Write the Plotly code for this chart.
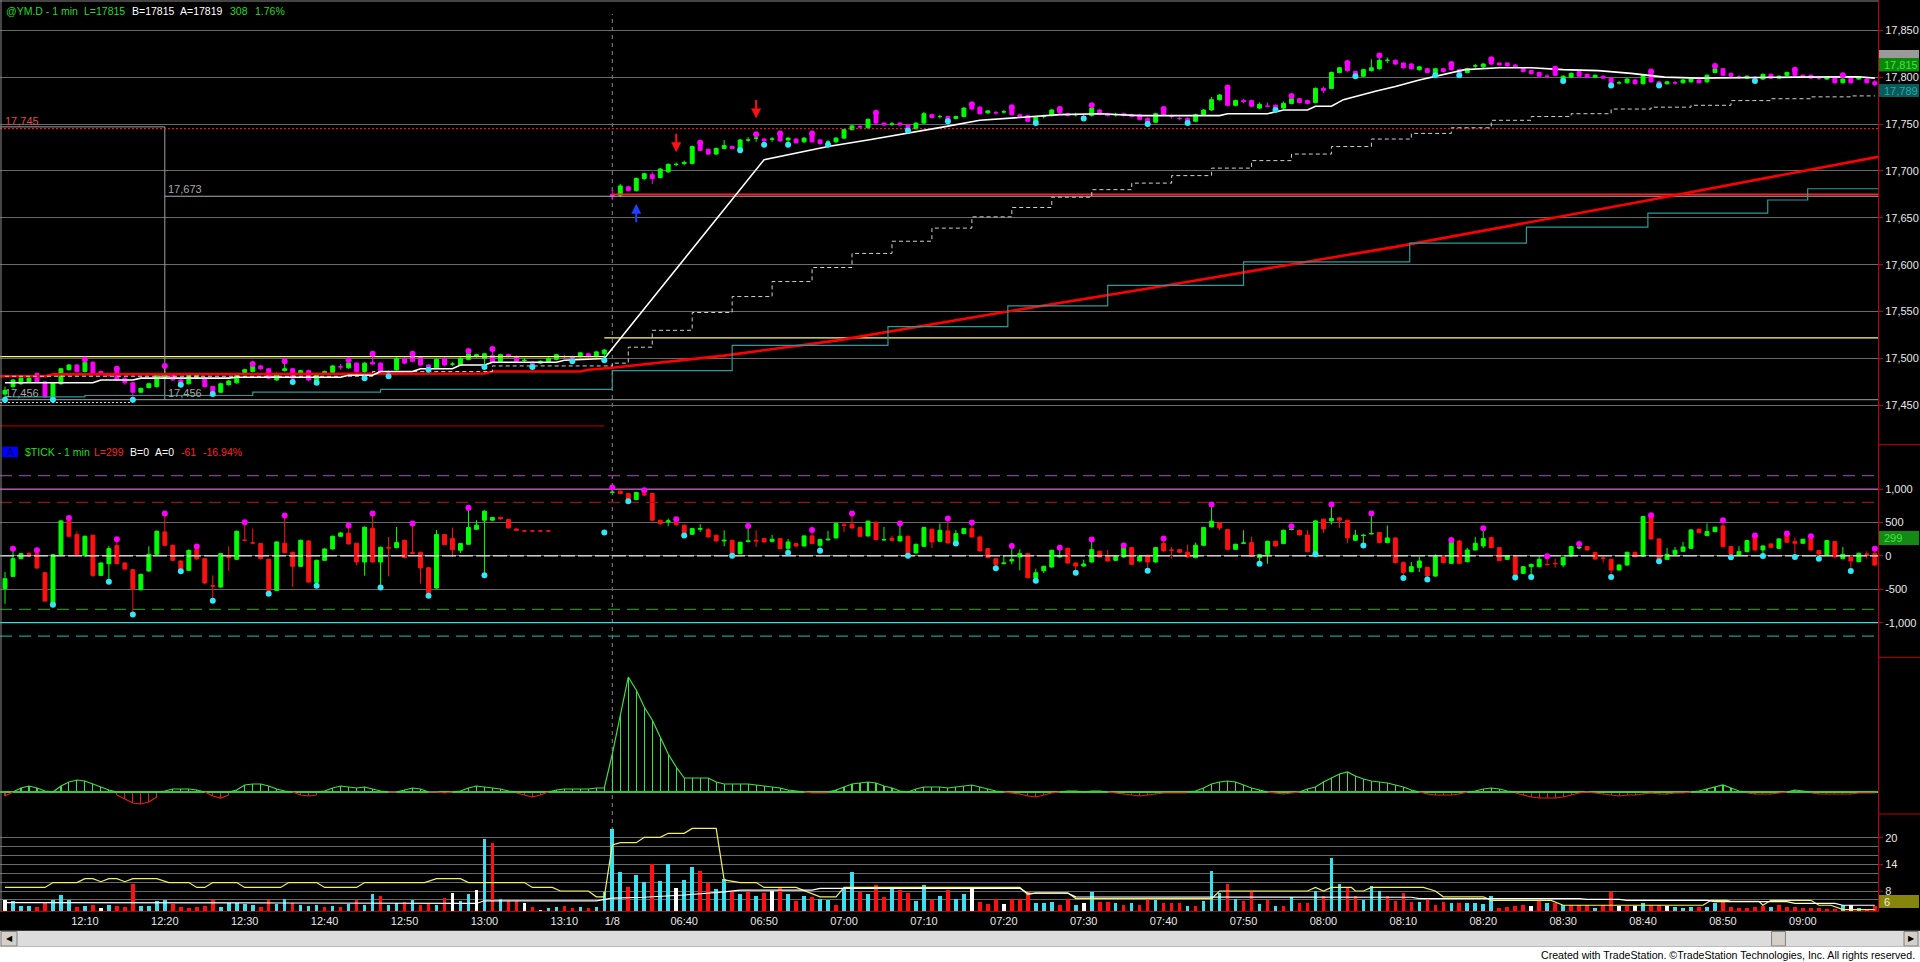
import plotly.graph_objects as go

W, H = 1920, 962

# ---------------- DATA ----------------
time_label_bars = [10, 20, 30, 40, 50, 60, 70, 76, 85, 95, 105, 115, 125, 135, 145, 155, 165, 175, 185, 195, 205, 215, 225]
time_labels = ["12:10", "12:20", "12:30", "12:40", "12:50", "13:00", "13:10", "1/8", "06:40", "06:50", "07:00",
               "07:10", "07:20", "07:30", "07:40", "07:50", "08:00", "08:10", "08:20", "08:30", "08:40", "08:50", "09:00"]

price_open = [
    17462, 17470, 17473, 17475, 17484, 17475, 17458, 17473, 17488, 17493,
    17486, 17496, 17486, 17482, 17487, 17479, 17474, 17464, 17469, 17470,
    17480, 17483, 17477, 17473, 17480, 17479, 17470, 17464, 17472, 17474,
    17485, 17486, 17492, 17489, 17477, 17487, 17489, 17483, 17487, 17474,
    17484, 17485, 17491, 17490, 17495, 17486, 17496, 17495, 17485, 17488,
    17500, 17502, 17501, 17493, 17490, 17500, 17494, 17493, 17499, 17502,
    17500, 17503, 17497, 17504, 17502, 17498, 17496, 17495, 17496, 17499,
    17502, 17502, 17502, 17505, 17502, 17505,
    17675, 17674, 17683, 17679, 17692, 17696, 17693, 17699, 17707, 17708,
    17708, 17728, 17723, 17718, 17724, 17726, 17723, 17733, 17735, 17734,
    17734, 17739, 17733, 17734, 17731, 17739, 17733, 17731, 17731, 17735,
    17744, 17747, 17746, 17760, 17751, 17750, 17751, 17749, 17745, 17751,
    17760, 17758, 17758, 17756, 17758, 17769, 17768, 17762, 17762, 17763,
    17767, 17760, 17759, 17752, 17758, 17759, 17765, 17761, 17760, 17758,
    17759, 17765, 17761, 17760, 17761, 17760, 17760, 17756, 17752, 17765,
    17758, 17756, 17756, 17753, 17760, 17765, 17776, 17788, 17770, 17775,
    17775, 17767, 17769, 17770, 17767, 17772, 17777, 17775, 17773, 17788,
    17788, 17805, 17814, 17806, 17801, 17807, 17809, 17818, 17818, 17815,
    17814, 17808, 17809, 17804, 17809, 17813, 17808, 17805, 17812, 17811,
    17818, 17815, 17815, 17813, 17809, 17807, 17805, 17801, 17808, 17797,
    17800, 17806, 17803, 17800, 17801, 17799, 17794, 17794, 17797, 17793,
    17805, 17795, 17793, 17794, 17794, 17795, 17797, 17795, 17805, 17809,
    17804, 17800, 17799, 17800, 17798, 17803, 17799, 17802, 17807, 17802,
    17802, 17799, 17798, 17799, 17794, 17799, 17798, 17798, 17795]
price_high = [
    17470, 17478, 17480, 17481, 17485, 17476, 17475, 17490, 17494, 17494,
    17499, 17497, 17487, 17484, 17489, 17480, 17475, 17469, 17474, 17483,
    17492, 17484, 17478, 17484, 17484, 17480, 17471, 17474, 17477, 17483,
    17489, 17494, 17493, 17490, 17485, 17497, 17490, 17488, 17488, 17483,
    17487, 17493, 17494, 17498, 17496, 17496, 17505, 17496, 17487, 17501,
    17501, 17505, 17502, 17494, 17500, 17501, 17496, 17501, 17508, 17505,
    17506, 17510, 17505, 17505, 17503, 17500, 17497, 17498, 17501, 17505,
    17504, 17503, 17507, 17506, 17508, 17510,
    17681, 17686, 17684, 17693, 17698, 17699, 17703, 17708, 17709, 17711,
    17727, 17730, 17724, 17725, 17733, 17727, 17734, 17736, 17739, 17735,
    17736, 17740, 17736, 17735, 17736, 17740, 17734, 17733, 17736, 17745,
    17749, 17750, 17756, 17762, 17752, 17752, 17752, 17750, 17752, 17763,
    17761, 17760, 17759, 17759, 17768, 17771, 17769, 17765, 17764, 17765,
    17768, 17761, 17760, 17758, 17760, 17766, 17766, 17762, 17762, 17760,
    17770, 17766, 17762, 17762, 17762, 17761, 17761, 17757, 17762, 17766,
    17760, 17758, 17757, 17761, 17766, 17779, 17782, 17789, 17776, 17777,
    17776, 17773, 17773, 17771, 17774, 17780, 17778, 17776, 17789, 17790,
    17806, 17811, 17815, 17807, 17809, 17819, 17823, 17821, 17819, 17816,
    17815, 17812, 17810, 17810, 17810, 17814, 17809, 17810, 17814, 17815,
    17819, 17816, 17816, 17814, 17810, 17808, 17806, 17803, 17809, 17802,
    17805, 17807, 17804, 17803, 17802, 17800, 17796, 17799, 17798, 17803,
    17806, 17796, 17796, 17796, 17798, 17800, 17798, 17803, 17812, 17810,
    17805, 17802, 17802, 17801, 17804, 17804, 17802, 17806, 17808, 17803,
    17803, 17801, 17801, 17800, 17802, 17800, 17801, 17799, 17797]
price_low = [
    17456, 17468, 17472, 17474, 17474, 17458, 17456, 17472, 17487, 17485,
    17485, 17483, 17483, 17480, 17476, 17472, 17456, 17463, 17468, 17469,
    17479, 17476, 17472, 17472, 17479, 17469, 17462, 17463, 17471, 17473,
    17484, 17485, 17488, 17478, 17476, 17486, 17475, 17482, 17476, 17474,
    17483, 17484, 17488, 17489, 17485, 17479, 17493, 17486, 17481, 17487,
    17494, 17496, 17492, 17488, 17489, 17492, 17492, 17492, 17498, 17501,
    17491, 17495, 17496, 17501, 17496, 17496, 17491, 17494, 17495, 17498,
    17500, 17497, 17501, 17501, 17501, 17498,
    17669, 17672, 17678, 17678, 17690, 17686, 17692, 17698, 17705, 17706,
    17707, 17721, 17717, 17717, 17723, 17723, 17722, 17731, 17731, 17728,
    17731, 17731, 17728, 17729, 17730, 17730, 17728, 17728, 17730, 17734,
    17743, 17745, 17745, 17750, 17748, 17748, 17748, 17743, 17744, 17750,
    17756, 17756, 17753, 17755, 17757, 17765, 17760, 17761, 17760, 17761,
    17759, 17757, 17752, 17751, 17756, 17758, 17761, 17758, 17758, 17756,
    17758, 17760, 17758, 17758, 17758, 17757, 17754, 17750, 17751, 17759,
    17756, 17754, 17751, 17752, 17759, 17764, 17775, 17769, 17769, 17772,
    17768, 17766, 17768, 17765, 17766, 17771, 17772, 17771, 17772, 17783,
    17787, 17804, 17806, 17801, 17800, 17806, 17808, 17815, 17813, 17809,
    17808, 17807, 17804, 17802, 17805, 17807, 17802, 17804, 17810, 17810,
    17813, 17812, 17811, 17810, 17805, 17803, 17800, 17799, 17801, 17796,
    17799, 17800, 17799, 17799, 17798, 17791, 17792, 17793, 17792, 17792,
    17794, 17791, 17792, 17792, 17793, 17794, 17793, 17794, 17804, 17801,
    17800, 17798, 17798, 17796, 17797, 17798, 17798, 17801, 17801, 17800,
    17798, 17797, 17797, 17793, 17793, 17793, 17797, 17793, 17790]
price_close = [
    17466, 17477, 17479, 17479, 17475, 17459, 17474, 17489, 17493, 17486,
    17496, 17484, 17484, 17482, 17477, 17474, 17464, 17468, 17473, 17482,
    17483, 17477, 17473, 17483, 17483, 17470, 17464, 17473, 17476, 17482,
    17488, 17492, 17489, 17479, 17484, 17489, 17479, 17487, 17477, 17482,
    17486, 17492, 17491, 17495, 17486, 17495, 17494, 17487, 17485, 17500,
    17495, 17497, 17493, 17488, 17499, 17493, 17494, 17500, 17505, 17504,
    17505, 17496, 17504, 17502, 17497, 17498, 17491, 17497, 17500, 17504,
    17502, 17498, 17506, 17502, 17507, 17509,
    17673, 17684, 17679, 17692, 17697, 17692, 17702, 17707, 17707, 17709,
    17726, 17722, 17718, 17724, 17727, 17724, 17733, 17733, 17735, 17732,
    17734, 17732, 17735, 17730, 17735, 17731, 17729, 17731, 17735, 17744,
    17748, 17747, 17755, 17751, 17749, 17750, 17749, 17745, 17751, 17761,
    17757, 17758, 17754, 17758, 17767, 17766, 17761, 17764, 17762, 17763,
    17760, 17758, 17753, 17757, 17758, 17765, 17762, 17759, 17760, 17758,
    17767, 17761, 17759, 17760, 17759, 17758, 17755, 17752, 17761, 17760,
    17758, 17756, 17752, 17760, 17765, 17776, 17781, 17770, 17775, 17774,
    17769, 17771, 17769, 17766, 17772, 17777, 17773, 17772, 17788, 17786,
    17805, 17810, 17807, 17802, 17808, 17810, 17818, 17818, 17814, 17810,
    17809, 17811, 17805, 17809, 17806, 17808, 17805, 17809, 17812, 17814,
    17814, 17813, 17812, 17811, 17806, 17804, 17801, 17801, 17802, 17801,
    17804, 17801, 17800, 17802, 17799, 17793, 17794, 17798, 17793, 17802,
    17795, 17793, 17795, 17794, 17797, 17799, 17794, 17802, 17809, 17802,
    17801, 17800, 17801, 17797, 17803, 17799, 17801, 17805, 17802, 17801,
    17799, 17799, 17800, 17794, 17798, 17794, 17800, 17794, 17792]
price_hi_dots = [10, 14, 20, 31, 35, 43, 46, 51, 58, 61, 87, 94, 97, 101, 109, 121, 126, 132, 136, 145,
                 153, 161, 168, 172, 181, 186, 194, 206, 214, 224, 230]
price_lo_dots = [0, 6, 16, 22, 26, 36, 39, 45, 48, 53, 60, 66, 71, 75, 92, 95, 98, 103, 113, 118, 129, 135,
                 143, 148, 159, 169, 179, 182, 195, 201, 207, 219]

# indicator lines on the price pane (vertices)
ma_x = [0, 11, 12, 16, 17, 28, 29, 42, 43, 46, 47, 51, 52, 56, 57, 60, 61, 69, 70, 75, 95, 98, 103, 108, 113,
        117.5, 122, 127, 132, 137, 142, 152, 153, 158, 160, 163, 164, 166, 167.5, 171.5, 174, 177, 178.5,
        182.7, 187, 191, 195, 199.4, 203.5, 207.7, 212, 216, 224, 232, 234]
ma_y = [17474, 17474, 17477, 17477, 17479, 17479, 17480, 17480, 17482, 17482, 17486, 17486, 17489, 17489,
        17493, 17493, 17496, 17496, 17498, 17500, 17712, 17717, 17726, 17733, 17740, 17747, 17754, 17757,
        17760, 17761, 17759, 17759, 17761, 17761, 17765, 17765, 17769, 17769, 17776, 17785, 17790, 17797,
        17800, 17808, 17810, 17810, 17808, 17807, 17804, 17800, 17799, 17799.5, 17800, 17800.5, 17799]
stop_x = [0, 46, 61, 76, 78, 81, 86, 91, 96, 101, 106, 111, 116, 121, 126, 131, 136, 141, 146, 151, 156, 161,
          166, 171, 176, 181, 186, 191, 196, 201, 206, 211, 216, 221, 226, 231, 234]
stop_y = [17481, 17486, 17492, 17495, 17512, 17530, 17549, 17566, 17582, 17597, 17612, 17625, 17639, 17651,
          17661, 17672, 17680, 17687, 17695, 17703, 17711, 17718, 17726, 17734, 17740, 17746, 17754, 17758,
          17761, 17766, 17768, 17770, 17775, 17777, 17779, 17780, 17780]
teal_x = [0, 10, 31, 47, 75, 76, 91, 110.5, 125.5, 138, 155, 175.8, 190.4, 205.6, 220.6, 225.6, 234.4]
teal_y = [17459, 17460.5, 17464, 17467, 17467, 17487, 17514, 17534, 17556, 17578, 17603, 17623, 17640, 17655,
          17669, 17681, 17681]
trend_x = [-0.6, 5, 6, 60, 61, 72, 73, 76, 90, 104, 124, 144, 174, 204, 234.4]
trend_y = [17481, 17481, 17483, 17484, 17486, 17486, 17488, 17490, 17503, 17519, 17548, 17576, 17619, 17666, 17715]

level_prev_high = 17745
level_box_top = 17747
level_open_gray = 17673
level_open_red = 17675
level_prev_low = 17456
level_low_dotted = 17453
level_yellow_1 = 17502
level_yellow_2 = 17522
level_red_1 = 17428
box_bar = 20

arrow_down_x = [84, 94]
arrow_down_tip = [17720, 17756]
arrow_up_x = [79]
arrow_up_tip = [17665]

# $TICK pane
tick_open = [
    -492, -307, -42, 33, 33, -252, -727, 18, 523, 318,
    8, 308, -292, -117, 153, -107, -207, -507, -227, 23,
    358, 158, -77, -217, 93, -42, -447, -467, -17, -52,
    233, 193, 183, -52, -517, 188, 53, -157, 223, -397,
    -67, 103, 293, 338, 188, -92, 413, -92, 123, 123,
    233, 48, 53, -177, -482, 318, 258, 83, 173, 398,
    533, 533, 573, 543, 403, 373, 373, 373, 373, None,
    None, None, None, None, None, 348, 948, 968, 933, 843,
    930, 933, 533, 513, 508, 458, 323, 398, 393, 308,
    223, 233, 33, 213, 233, 258, 218, 258, 113, 183,
    148, 298, 158, 238, 268, 463, 473, 423, 298, 503,
    238, 263, 223, 293, 43, 143, 398, 218, 373, 183,
    333, 408, 283, 108, -42, -117, -77, -17, 33, -332,
    -222, -167, -17, 113, -107, -152, -92, 68, -17, -67,
    -17, 123, -77, 8, -92, 183, 88, 93, 53, -27,
    158, 433, 493, 393, 98, 188, 198, -27, 23, 218,
    183, 393, 383, 313, 38, 548, 523, 568, 533, 233,
    303, 328, 348, 198, 268, -102, -237, -172, -172, -302,
    -12, -112, 223, -87, 88, 148, 273, 123, -52, -17,
    -262, -162, -162, -127, -112, -137, -2, 118, 138, 48,
    -32, -52, -212, -137, 53, -2, 588, 253, -52, 23,
    68, 113, 398, 303, 363, 448, 138, 13, 63, 297,
    88, 178, 113, 323, 213, 188, 253, 78, 13, 213,
    -42, -17, -87, 28, 38]
tick_high = [
    -242, 108, 43, 63, 83, -242, 28, 533, 568, 368,
    303, 318, -97, 148, 248, -97, -197, -267, 143, 383,
    633, 168, -67, 93, 138, -32, -292, 43, 143, 378,
    503, 408, 193, -42, 218, 603, 63, 243, 233, -57,
    113, 303, 353, 453, 198, 438, 633, 138, 283, 433,
    243, 483, 63, -167, 388, 328, 423, 193, 718, 533,
    683, 583, 583, 553, 413, 373, 373, 373, 373, None,
    None, None, None, None, None, 348, 1023, 978, 943, 958,
    983, 943, 543, 558, 548, 468, 418, 473, 418, 318,
    383, 243, 213, 448, 383, 273, 313, 268, 253, 193,
    308, 388, 253, 373, 493, 508, 633, 433, 528, 513,
    433, 303, 483, 303, 183, 433, 408, 483, 558, 388,
    418, 498, 293, 118, -32, 8, 148, 98, 43, -192,
    -147, 93, 123, 123, -97, -57, 243, 78, 88, -2,
    153, 133, 3, 18, 133, 258, 133, 103, 168, 198,
    433, 768, 503, 403, 183, 383, 288, 28, 228, 228,
    393, 443, 393, 383, 533, 558, 768, 578, 543, 388,
    328, 633, 358, 453, 278, -82, -92, -17, -162, 23,
    -2, 238, 233, 123, 283, 413, 283, 133, 8, -7,
    -152, -117, -2, -7, -42, -12, 148, 178, 148, 58,
    -7, -42, -127, 63, 63, 598, 608, 263, 118, 133,
    208, 398, 408, 483, 438, 533, 148, 143, 238, 303,
    158, 188, 263, 333, 273, 258, 293, 88, 238, 223,
    133, -7, 48, 68, 108]
tick_low = [
    -717, -317, -52, -17, -192, -687, -732, 8, 273, 8,
    -17, -317, -302, -387, -127, -207, -877, -517, -237, 13,
    148, -77, -232, -227, -57, -417, -672, -477, -227, -62,
    218, 173, -52, -567, -527, 38, -467, -167, -402, -447,
    -77, 93, 283, 168, -142, -297, -102, -472, -307, 113,
    -37, 28, -417, -597, -492, 158, -17, 43, 163, 388,
    -292, 523, 543, 408, 373, 373, 373, 373, 373, None,
    None, None, None, None, None, 348, 938, 923, 818, 833,
    893, 523, 458, 443, 443, 303, 313, 358, 273, 213,
    143, 3, 23, 203, 133, 198, 198, 98, 48, 123,
    138, 173, 78, 233, 258, 358, 408, 283, 288, 233,
    228, 223, 213, 3, 33, 133, 118, 208, 183, 183,
    323, 273, 63, -37, -187, -127, -127, -217, -337, -372,
    -257, -177, -27, -117, -252, -162, -102, -27, -87, -77,
    -27, -137, -87, -222, -102, 63, -42, 43, -27, -37,
    148, 423, 383, 88, 88, 178, -17, -117, -117, 138,
    173, 383, 303, 53, 23, 343, 468, 418, 188, 223,
    153, 323, 188, 188, -112, -332, -172, -242, -352, -312,
    -112, -122, -122, -97, 78, 113, 113, -82, -62, -322,
    -272, -317, -172, -142, -177, -172, -12, 98, 78, -57,
    -102, -317, -222, -147, -22, -12, 243, -82, -62, 13,
    58, 103, 338, 293, 353, 128, -22, 3, 53, 78,
    -2, 118, 103, 193, -17, 178, 78, -42, 3, -27,
    -52, -227, -97, -42, -147]
tick_close = [
    -342, -42, 33, 23, -182, -677, 18, 523, 293, 18,
    293, -292, -107, 108, -117, -197, -492, -277, 23, 368,
    158, -67, -207, 83, -47, -407, -452, 33, -27, 368,
    233, 193, -42, -517, 208, 48, -157, 233, -392, -67,
    103, 293, 343, 178, -92, 428, -92, 128, 118, 198,
    -27, 38, -182, -557, 318, 168, 93, 183, 423, 458,
    668, 573, 553, 418, 383, 373, 373, 373, 373, None,
    None, None, None, None, None, 348, 953, 933, 843, 948,
    910, 533, 483, 523, 468, 333, 408, 408, 283, 223,
    233, 33, 203, 223, 223, 208, 248, 108, 208, 148,
    298, 183, 243, 248, 483, 458, 418, 293, 518, 243,
    243, 233, 293, 33, 173, 423, 208, 383, 193, 333,
    408, 283, 73, -27, -127, -107, -57, 33, -327, -252,
    -157, 83, -7, -107, -152, -122, 93, -17, -77, -12,
    123, -127, -7, -92, 123, 73, 83, 53, -17, 158,
    423, 518, 418, 98, 173, 193, -7, 18, 218, 148,
    383, 398, 313, 63, 523, 403, 558, 533, 268, 308,
    308, 333, 198, 268, -102, -247, -162, -77, -302, -12,
    -102, 223, -112, 88, 188, 258, 123, -72, -2, -312,
    -162, -127, -52, -132, -117, -22, 138, 128, 88, -47,
    -37, -212, -137, 53, -12, 588, 253, -47, 23, 83,
    133, 388, 348, 363, 428, 138, 23, 63, 228, 88,
    148, 128, 253, 203, 188, 248, 88, 28, 228, -17,
    23, -77, 38, 23, -137]
tick_hi_dots = [1, 4, 8, 14, 20, 24, 30, 35, 43, 46, 51, 58, 76, 80, 84, 93, 101, 106, 112, 118, 121, 126,
                132, 136, 140, 145, 151, 161, 166, 171, 181, 185, 193, 197, 206, 215, 219, 223, 226, 234]
tick_lo_dots = [6, 13, 16, 22, 26, 33, 39, 47, 53, 60, 75, 78, 85, 91, 98, 102, 113, 119, 124, 129, 134, 143,
                157, 164, 170, 175, 178, 189, 191, 201, 207, 216, 220, 224, 227, 231]
tick_levels = [1200, 1000, 800, 0, -800, -1000, -1200]

# oscillator pane
osc_values = [
    -4, 0, 4, 6, 4, 1, 0, 6, 10, 12,
    11, 8, 5, 2, -3, -7, -11, -12, -10, -5,
    1, 3, 3, 3, 2, 0, -4, -6, -3, 2,
    7, 8, 8, 6, 3, 1, 0, -3, -4, -3,
    1, 4, 6, 5, 4, 5, 3, 1, 0, 0,
    2, 4, 3, 0, 0, -1, 0, 1, 4, 6,
    5, 4, 3, 1, -1, -3, -5, -3, 0, 2,
    3, 3, 3, 3, 4, 4, 38, 78, 115, 102,
    85, 72, 55, 38, 25, 14, 14, 14, 14, 10,
    8, 8, 8, 8, 7, 6, 5, 4, 2, 1,
    0, -1, -1, -1, 2, 5, 8, 9, 10, 9,
    6, 4, 1, 0, 3, 5, 5, 5, 4, 5,
    6, 7, 5, 3, 1, 0, -1, -2, -4, -5,
    -3, -1, 0, 1, 1, 0, 1, 1, 0, -1,
    -2, -3, -4, -3, -2, -1, -1, -1, -1, 1,
    4, 8, 10, 11, 10, 7, 4, 2, 0, -1,
    -2, -1, 0, 3, 5, 10, 14, 18, 20, 16,
    13, 11, 10, 9, 7, 5, 2, 0, -2, -3,
    -3, -3, -2, 0, 1, 3, 4, 3, 1, -1,
    -3, -5, -6, -6, -6, -5, -3, -1, 0, -1,
    -2, -3, -4, -3, -3, -2, -1, -2, -2, -1,
    -1, 0, 1, 3, 5, 7, 4, 1, -1, -2,
    -2, -2, -1, 0, 2, 1, -1, -2, -2, -2,
    -2, -2, -1, -1, -1]

# volume pane
vol_values = [
    5.9, 5.7, 4.6, 4.6, 4.3, 5.6, 5.9, 7.1, 5.9, 4.4,
    4.6, 4.8, 4.1, 4.8, 4.6, 4.4, 9.6, 4.6, 4.6, 5.8,
    5.9, 5.0, 4.4, 4.1, 4.3, 4.6, 5.9, 4.3, 5.2, 5.2,
    5.0, 4.8, 4.3, 5.9, 5.0, 6.2, 5.2, 4.8, 4.6, 4.8,
    4.4, 4.6, 4.4, 5.0, 5.9, 4.8, 7.3, 6.8, 4.8, 5.2,
    5.6, 5.9, 4.8, 5.0, 4.8, 6.5, 7.6, 5.7, 7.3, 8.2,
    19.7, 18.9, 6.1, 5.7, 5.7, 5.2, 4.4, 3.8, 4.1, 4.4,
    4.6, 4.1, 4.3, 4.1, 4.4, 7.8, 22.0, 12.3, 8.8, 11.6,
    10.1, 14.1, 10.3, 14.1, 8.7, 10.5, 13.3, 12.5, 9.9, 8.4,
    10.7, 8.0, 7.3, 7.8, 6.9, 7.5, 8.1, 8.6, 7.3, 5.8,
    6.9, 6.6, 6.1, 6.0, 4.8, 8.6, 12.3, 7.8, 7.3, 9.3,
    6.7, 8.6, 8.2, 7.5, 5.8, 9.3, 6.0, 6.9, 8.2, 6.3,
    7.3, 8.4, 5.6, 5.1, 6.1, 5.1, 6.1, 6.3, 7.8, 5.2,
    5.2, 5.6, 4.8, 6.1, 4.8, 5.2, 7.7, 5.6, 5.6, 5.2,
    4.8, 5.2, 4.8, 6.1, 6.0, 5.2, 5.4, 5.4, 4.6, 4.6,
    5.8, 12.5, 7.5, 9.6, 6.3, 5.8, 8.1, 5.1, 6.0, 4.7,
    4.6, 6.6, 5.2, 5.4, 8.1, 6.9, 15.4, 9.6, 8.6, 6.9,
    6.0, 9.1, 8.1, 6.9, 5.8, 7.6, 5.6, 5.6, 6.1, 4.8,
    5.6, 5.2, 5.2, 5.2, 5.2, 5.1, 6.9, 4.1, 4.4, 4.7,
    4.8, 4.6, 5.8, 5.2, 5.2, 4.8, 4.8, 4.8, 4.8, 4.1,
    4.8, 7.8, 4.7, 4.7, 4.6, 5.4, 4.8, 4.8, 4.7, 4.4,
    4.2, 4.4, 4.4, 4.4, 5.4, 5.6, 4.4, 4.1, 4.1, 4.4,
    4.7, 4.4, 4.8, 4.4, 4.4, 4.1, 4.1, 4.1, 4.0, 4.0,
    4.8, 4.8, 4.1, 4.0, 4.6]
# bar direction: u = up (cyan), d = down (red), n = unchanged (white)
vol_dir = list(
    "nuuudduuud" "udnuddduuu" "udddddduuu" "uudduuduuu" "dududuuduu"
    "duddudnuun" "ududdndnuu" "dduduuuudu" "uduunuuddu" "udududndud"
    "uduuduudud" "dudduududu" "undddndddu" "uuddunuddu" "duddudddud"
    "uuududdudu" "dudduduudd" "uuuddddudd" "duduuuuddd" "dndududddu"
    "ddndnuddnu" "uuduuddddd" "dudddddddd" "unudd")
vol_avg_x = [0, 5, 6, 9, 10, 11, 12, 13, 14, 15, 16, 19, 20.5, 23, 24, 25, 26, 29, 30, 34.5, 35.5, 39, 40, 44,
             45, 52.5, 54, 57, 58, 65, 66, 68.5, 69.5, 73, 74, 75, 76, 77, 79, 80, 82, 83, 85, 86, 89, 90, 92,
             94, 95, 99, 102, 104, 105, 127, 128, 129, 133, 134, 151, 152, 163, 164, 165, 166, 168.5, 169, 170,
             171, 177.5, 179, 180, 185, 186, 193.5, 195, 212.5, 213.5, 215.5, 216, 219.5, 220, 221, 226, 227,
             228.5, 230, 234]
vol_avg_y = [8.8, 8.8, 9.9, 9.9, 10.8, 10.8, 10.1, 10.8, 10.8, 10.1, 10.8, 10.8, 9.9, 9.9, 8.8, 8.8, 9.9, 9.9,
             8.8, 8.8, 9.9, 9.9, 8.8, 8.8, 9.9, 9.9, 10.8, 10.8, 9.9, 9.9, 8.8, 8.8, 8.0, 8.0, 6.7, 6.7, 18.4,
             18.9, 18.9, 20.1, 20.1, 21.0, 21.0, 22.1, 22.1, 10.5, 9.9, 9.9, 8.8, 8.8, 6.7, 6.7, 8.8, 8.8, 7.2,
             7.6, 7.6, 6.3, 6.3, 8.0, 8.0, 8.8, 8.0, 8.8, 8.8, 8.0, 8.0, 8.8, 8.8, 8.0, 6.7, 6.7, 5.9, 5.9, 4.8,
             4.8, 5.9, 5.9, 5.7, 5.7, 4.8, 5.9, 5.9, 4.8, 4.8, 3.8, 3.8]
vol_slow_x = [0, 10, 35, 59, 60, 74, 75, 76, 80, 85, 90, 92, 101, 102, 127, 128, 133, 134, 176, 177, 197, 198,
              202, 203, 213, 214, 223, 224, 229, 230, 234]
vol_slow_y = [5.4, 5.4, 5.3, 5.2, 5.8, 5.8, 6.1, 6.4, 6.6, 7.1, 7.8, 8.2, 8.2, 8.6, 8.6, 7.5, 7.5, 6.7, 6.6, 6.3,
              6.3, 6.1, 6.1, 5.9, 5.9, 5.6, 5.6, 5.2, 5.2, 4.8, 4.8]

# ---------------- FIGURE ----------------
XL, XR = -0.626, 234.4
def py(p):
    return 1 - p / H

X_DOM = [0, 1878 / W]
Y_PRICE = [py(444.7), 1.0]
Y_TICK = [py(657.3), py(444.7)]
Y_OSC = [py(814), py(657.3)]
Y_VOL = [py(911), py(814)]

fig = go.Figure()
FONT = "Liberation Sans, Arial, sans-serif"
NARROW = "Liberation Sans Narrow, Arial Narrow, Liberation Sans, Arial, sans-serif"


def line(xs, ys, yax, color, width=1.0, dash="solid", shape="linear"):
    fig.add_trace(go.Scatter(x=xs, y=ys, mode="lines", yaxis=yax, hoverinfo="skip", showlegend=False,
                             line=dict(color=color, width=width, dash=dash, shape=shape)))


# price pane horizontal references
line([XL, 75], [level_red_1] * 2, "y", "#c00000", 1)
line([XL, XR], [level_prev_low] * 2, "y", "#a0a0a0", 1)
line([XL, 16], [level_low_dotted] * 2, "y", "#d8d8d8", 1, "2px,2px")
line([XL, 75], [level_yellow_1] * 2, "y", "#ffff70", 1.3)
line([75, XR], [level_yellow_2] * 2, "y", "#ffff70", 1.3)
line([XL, box_bar], [level_box_top] * 2, "y", "#a0a0a0", 1)
line([box_bar, box_bar], [level_box_top, level_prev_low], "y", "#a0a0a0", 1)
line([box_bar, XR], [level_open_gray] * 2, "y", "#b0b0b0", 1)
line([76, XR], [level_open_red] * 2, "y", "#ff2020", 1.6)
line([XL, XR], [level_prev_high] * 2, "y", "#ff3030", 1, "2px,2px")

# indicators
line(trend_x, trend_y, "y", "#ff0000", 2.6)
line(teal_x, teal_y, "y", "#2a9a9a", 1.2, shape="hv")
line(stop_x, stop_y, "y", "#d0d0d0", 1, "4px,3px", shape="hv")
line(ma_x, ma_y, "y", "#ffffff", 1.6)

bars = list(range(len(price_open)))
fig.add_trace(go.Candlestick(
    x=bars, open=price_open, high=price_high, low=price_low, close=price_close, yaxis="y",
    increasing=dict(line=dict(color="#00ff00", width=1), fillcolor="#00ff00"),
    decreasing=dict(line=dict(color="#ff00ff", width=1), fillcolor="#ff00ff"),
    whiskerwidth=0, hoverinfo="skip", showlegend=False))
fig.add_trace(go.Scatter(x=price_hi_dots, y=[price_high[i] for i in price_hi_dots], mode="markers", yaxis="y",
                         marker=dict(color="#ff00ff", size=6), hoverinfo="skip", showlegend=False))
fig.add_trace(go.Scatter(x=price_lo_dots, y=[price_low[i] for i in price_lo_dots], mode="markers", yaxis="y",
                         marker=dict(color="#30e8f8", size=6), hoverinfo="skip", showlegend=False))

# TICK pane
tick_styles = {1200: ("#8a3a9a", "12px,7px"), 1000: ("#cc55cc", "solid"), 800: ("#9a1010", "12px,7px"),
               0: ("#e8e8e8", "14px,3px"), -800: ("#1f8a1f", "12px,7px"), -1000: ("#40d8e8", "solid"),
               -1200: ("#1f9a88", "12px,7px")}
for lv in tick_levels:
    c, d = tick_styles[lv]
    line([XL, XR], [lv, lv], "y2", c, 1.2, d)

t_h = [None if h is None else max(h, o, c) for h, o, c in zip(tick_high, tick_open, tick_close)]
t_l = [None if l is None else min(l, o, c) for l, o, c in zip(tick_low, tick_open, tick_close)]
fig.add_trace(go.Candlestick(
    x=bars, open=tick_open, high=t_h, low=t_l, close=tick_close, yaxis="y2",
    increasing=dict(line=dict(color="#00ff00", width=1), fillcolor="#00ff00"),
    decreasing=dict(line=dict(color="#ff1010", width=1), fillcolor="#ff1010"),
    whiskerwidth=0, hoverinfo="skip", showlegend=False))
fig.add_trace(go.Scatter(x=tick_hi_dots, y=[t_h[i] for i in tick_hi_dots], mode="markers", yaxis="y2",
                         marker=dict(color="#ff00ff", size=6), hoverinfo="skip", showlegend=False))
fig.add_trace(go.Scatter(x=tick_lo_dots, y=[t_l[i] for i in tick_lo_dots], mode="markers", yaxis="y2",
                         marker=dict(color="#30e8f8", size=6), hoverinfo="skip", showlegend=False))

# oscillator pane
line([XL, XR], [0, 0], "y3", "#38c838", 2)
fig.add_trace(go.Bar(x=bars, y=osc_values, yaxis="y3", width=0.14,
                     marker=dict(color=["#40e040" if v >= 0 else "#e02020" for v in osc_values], line_width=0),
                     hoverinfo="skip", showlegend=False))
line(bars, [max(v, 0) for v in osc_values], "y3", "#40e040", 1.2)
line(bars, [v if v <= 0 else None for v in osc_values], "y3", "#e02020", 1.2)

# volume pane
vcol = {"u": "#38e0f0", "d": "#ff1010", "n": "#ffffff"}
fig.add_trace(go.Bar(x=bars, y=vol_values, yaxis="y4", width=0.45,
                     marker=dict(color=[vcol[d] for d in vol_dir], line_width=0),
                     hoverinfo="skip", showlegend=False))
line(vol_avg_x, vol_avg_y, "y4", "#f0f060", 1.2)
line(vol_slow_x, vol_slow_y, "y4", "#ffffff", 1.2)

# ---------------- LAYOUT ----------------
ycommon = dict(side="right", anchor="x", showline=True, linecolor="#c00000", linewidth=1,
               ticklen=4, tickcolor="#c00000", zeroline=False, fixedrange=True,
               tickfont=dict(family=NARROW, size=11, color="#e8e8e8"), gridcolor="#6a6a6a", gridwidth=1)
pticks = list(range(17450, 17851, 50))
fig.update_layout(
    width=W, height=H, margin=dict(l=0, r=0, t=0, b=0),
    paper_bgcolor="#000000", plot_bgcolor="#000000", showlegend=False, hovermode=False,
    barmode="overlay", bargap=0,
    xaxis=dict(domain=X_DOM, range=[XL, XR], anchor="y4", tickvals=time_label_bars, ticktext=time_labels,
               showgrid=False, zeroline=False, showline=True, linecolor="#c00000", ticks="",
               tickfont=dict(family=FONT, size=11, color="#e8e8e8"), rangeslider=dict(visible=False),
               fixedrange=True),
    yaxis=dict(domain=Y_PRICE, range=[17408, 17882.3], tickvals=pticks, ticks="outside",
               ticktext=[f"{v:,}" for v in pticks], showgrid=True, **ycommon),
    yaxis2=dict(domain=Y_TICK, range=[-1517.6, 1662.7], tickvals=[-1000, -500, 0, 500, 1000], ticks="outside",
                ticktext=["-1,000", "-500", "0", "500", "1,000"], showgrid=True, **ycommon),
    yaxis3=dict(domain=Y_OSC, range=[-22, 134.7], showticklabels=False, showgrid=False, ticks="", **ycommon),
    yaxis4=dict(domain=Y_VOL, range=[3.5, 25.35], tickvals=[8, 14, 20], ticktext=["8", "14", "20"],
                ticks="outside", showgrid=True,
                minor=dict(tickvals=[6, 10, 12, 16, 18], showgrid=True, gridcolor="#6a6a6a", ticks=""),
                **ycommon),
)

shapes = []
# separator dashed line for new session
shapes.append(dict(type="line", xref="x", yref="paper", x0=76, x1=76, y0=py(911), y1=py(14),
                   line=dict(color="#8a8a8a", width=1, dash="4px,4px"), layer="below"))
# borders
shapes.append(dict(type="line", xref="paper", yref="paper", x0=1 / W, x1=1 / W, y0=py(911), y1=1,
                   line=dict(color="#8a8a8a", width=1)))
shapes.append(dict(type="line", xref="paper", yref="paper", x0=0, x1=1878 / W, y0=py(1), y1=py(1),
                   line=dict(color="#8a8a8a", width=1)))
for yb in (444.7, 657.3, 814):
    shapes.append(dict(type="line", xref="paper", yref="paper", x0=1878 / W, x1=1, y0=py(yb), y1=py(yb),
                       line=dict(color="#c00000", width=1)))


def box(y0, y1, fill):
    shapes.append(dict(type="rect", xref="paper", yref="paper", x0=1879 / W, x1=1919 / W, y0=py(y1), y1=py(y0),
                       fillcolor=fill, line=dict(width=0)))


# right axis value boxes
box(50, 58, "#9a9a9a")
box(58, 71.5, "#0b880b")
box(84, 97, "#0b5a5a")
box(531, 545, "#138a13")
box(895, 908, "#86860c")
# TICK title blue box
shapes.append(dict(type="rect", xref="paper", yref="paper", x0=2.2 / W, x1=17.9 / W, y0=py(457.3), y1=py(446.7),
                   fillcolor="#0000ff", line=dict(width=0)))
# scrollbar + footer
shapes.append(dict(type="rect", xref="paper", yref="paper", x0=0, x1=1, y0=py(946.7), y1=py(930.7),
                   fillcolor="#dcdcdc", line=dict(width=0)))
for x0, x1 in ((1, 17), (1904, 1918), (1771.6, 1785.4)):
    shapes.append(dict(type="rect", xref="paper", yref="paper", x0=x0 / W, x1=x1 / W, y0=py(946), y1=py(931.5),
                       fillcolor="#d4d0c8", line=dict(color="#808080", width=1)))
shapes.append(dict(type="rect", xref="paper", yref="paper", x0=0, x1=1, y0=0, y1=py(946.7),
                   fillcolor="#ffffff", line=dict(width=0)))
fig.update_layout(shapes=shapes)

ann = []


def text(x, y, s, color, size=10.5, family=FONT, anchor="left"):
    ann.append(dict(xref="paper", yref="paper", x=x / W, y=py(y), text=s, showarrow=False, xanchor=anchor,
                    yanchor="middle", font=dict(family=family, size=size, color=color)))


G = "#22dd22"
text(3.6, 10.7, "@YM.D - 1 min", G)
text(81.7, 10.7, "L=17815", G)
text(129.5, 10.7, "B=17815", "#ffffff")
text(177.7, 10.7, "A=17819", "#ffffff")
text(228, 10.7, "308", G)
text(253, 10.7, "1.76%", G)
text(10, 452.3, "A", "#000058", 10.5, FONT, "center")
text(23.2, 452.3, "$TICK - 1 min", G)
text(92.4, 452.3, "L=299", "#ff2020")
text(128, 452.3, "B=0", "#ffffff")
text(153, 452.3, "A=0", "#ffffff")
text(178.6, 452.3, "-61", "#ff2020")
text(201, 452.3, "-16.94%", "#ff2020")
text(3, 121, "17,745", "#e04848", 11, NARROW)
text(166, 189, "17,673", "#a8a8a8", 11, NARROW)
text(3, 393, "17,456", "#a8a8a8", 11, NARROW)
text(166, 393, "17,456", "#a8a8a8", 11, NARROW)
text(1882, 65, "17,815", "#38e838", 11, NARROW)
text(1882, 90.5, "17,789", "#2aa8a8", 11, NARROW)
text(1882, 538, "299", "#48e048", 11, NARROW)
text(1882, 901.5, "6", "#f0f0d0", 11, NARROW)
text(9, 938.7, "◀", "#000000", 8, FONT, "center")
text(1911, 938.7, "▶", "#000000", 8, FONT, "center")
text(1917, 955, "Created with TradeStation. ©TradeStation Technologies, Inc. All rights reserved.", "#000000",
     10.6, FONT, "right")

for xa, tip in zip(arrow_down_x, arrow_down_tip):
    ann.append(dict(x=xa, y=tip, xref="x", yref="y", text="", showarrow=True, ax=0, ay=-20,
                    arrowhead=2, arrowsize=1, arrowwidth=2, arrowcolor="#ff1010"))
for xa, tip in zip(arrow_up_x, arrow_up_tip):
    ann.append(dict(x=xa, y=tip, xref="x", yref="y", text="", showarrow=True, ax=0, ay=20,
                    arrowhead=2, arrowsize=1, arrowwidth=2, arrowcolor="#2040ff"))
fig.update_layout(annotations=ann)

fig.write_html("out.html", config={"displayModeBar": False, "staticPlot": True},
               post_script="document.body.style.margin='0';document.body.style.overflow='hidden';")
